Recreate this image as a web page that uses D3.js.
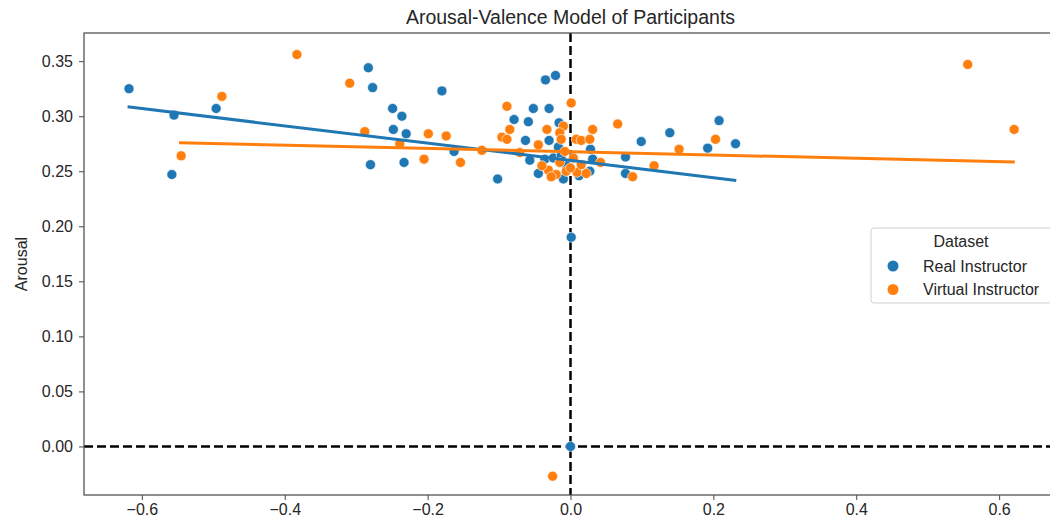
<html>
<head>
  <meta charset="utf-8">
  <style>
    body { margin: 0; background: white; font-family: "Liberation Sans", Arial, Helvetica, sans-serif; }
    .tick text { fill: #262626; font-size: 16px; }
    .tick line { stroke: #444; }
  </style>
</head>
<body>
  <svg id="chart"></svg>
  <script src="https://cdn.jsdelivr.net/npm/d3@7"></script>
  <script>
    // values: [valence, arousal]
    var realInstructor = [
      [-0.618, 0.325], [-0.555, 0.301], [-0.558, 0.247], [-0.496, 0.307],
      [-0.283, 0.344], [-0.277, 0.326], [-0.280, 0.256], [-0.249, 0.307],
      [-0.236, 0.300], [-0.248, 0.288], [-0.230, 0.284], [-0.233, 0.258],
      [-0.180, 0.323], [-0.163, 0.268], [-0.102, 0.243], [-0.079, 0.297],
      [-0.052, 0.307], [-0.059, 0.295], [-0.063, 0.278], [-0.035, 0.333],
      [-0.021, 0.337], [-0.030, 0.307], [-0.016, 0.294], [-0.030, 0.278],
      [-0.057, 0.260], [-0.045, 0.248], [-0.036, 0.261], [-0.024, 0.262],
      [-0.013, 0.264], [-0.017, 0.272], [-0.010, 0.243], [-0.005, 0.255],
      [0.012, 0.246], [0.027, 0.250], [0.028, 0.270], [0.031, 0.261],
      [0.077, 0.263], [0.077, 0.248], [0.099, 0.277], [0.139, 0.285],
      [0.192, 0.271], [0.208, 0.296], [0.231, 0.275], [0.001, 0.190],
      [0.000, 0.000]
    ];
    var virtualInstructor = [
      [-0.488, 0.318], [-0.545, 0.264], [-0.383, 0.356], [-0.309, 0.330],
      [-0.288, 0.286], [-0.239, 0.275], [-0.199, 0.284], [-0.205, 0.261],
      [-0.174, 0.282], [-0.154, 0.258], [-0.124, 0.269], [-0.089, 0.309],
      [-0.085, 0.288], [-0.096, 0.281], [-0.089, 0.279], [0.001, 0.312],
      [-0.033, 0.288], [-0.010, 0.291], [-0.015, 0.285], [-0.013, 0.279],
      [-0.071, 0.267], [-0.045, 0.274], [0.008, 0.279], [0.015, 0.278],
      [0.027, 0.279], [0.031, 0.288], [0.066, 0.293], [0.042, 0.258],
      [0.087, 0.245], [0.117, 0.255], [0.152, 0.270], [0.203, 0.279],
      [0.556, 0.347], [0.621, 0.288], [-0.031, 0.251], [-0.020, 0.247],
      [-0.006, 0.250], [0.009, 0.249], [0.022, 0.248], [-0.040, 0.255],
      [-0.015, 0.258], [0.000, 0.253], [0.004, 0.262], [-0.027, 0.245],
      [0.015, 0.256], [-0.008, 0.268], [-0.025, -0.027]
    ];
    // fitted lines, endpoints
    var realFit = [[-0.620, 0.3085], [0.232, 0.2417]];
    var virtualFit = [[-0.548, 0.2759], [0.622, 0.2585]];

    var xTicks = [-0.6, -0.4, -0.2, 0.0, 0.2, 0.4, 0.6];
    var yTicks = [0.00, 0.05, 0.10, 0.15, 0.20, 0.25, 0.30, 0.35];
    var seriesNames = ["Real Instructor", "Virtual Instructor"];
    var seriesColors = ["#1f77b4", "#ff7f0e"];

    var width = 1050, height = 525;
    var margin = { top: 33, left: 84, bottom: 30, right: -7 };

    var svg = d3.select("#chart")
      .attr("width", width)
      .attr("height", height);

    var xScale = d3.scaleLinear()
      .domain([-0.681, 0.681])
      .range([margin.left, width - margin.right]);
    var yScale = d3.scaleLinear()
      .domain([-0.0441, 0.3756])
      .range([height - margin.bottom, margin.top]);

    // title
    svg.append("text")
      .attr("x", (xScale.range()[0] + xScale.range()[1]) / 2)
      .attr("y", 24)
      .attr("text-anchor", "middle")
      .attr("font-size", "19.5px")
      .attr("fill", "#262626")
      .text("Arousal-Valence Model of Participants");

    // axes
    var xAxis = d3.axisBottom(xScale).tickValues(xTicks).tickFormat(d3.format(".1f")).tickSize(5).tickPadding(4);
    svg.append("g")
      .attr("transform", "translate(0," + yScale.range()[0] + ")")
      .call(xAxis)
      .call(g => g.select(".domain").remove());

    var yAxis = d3.axisLeft(yScale).tickValues(yTicks).tickFormat(d3.format(".2f")).tickSize(5).tickPadding(6);
    svg.append("g")
      .attr("transform", "translate(" + xScale.range()[0] + ",0)")
      .call(yAxis)
      .call(g => g.select(".domain").remove());

    svg.append("text")
      .attr("transform", "translate(27," + (yScale.range()[0] + yScale.range()[1]) / 2 + ") rotate(-90)")
      .attr("text-anchor", "middle")
      .attr("font-size", "16px")
      .attr("fill", "#262626")
      .text("Arousal");

    // zero lines
    svg.append("line")
      .attr("x1", xScale(0)).attr("x2", xScale(0))
      .attr("y1", yScale.range()[1]).attr("y2", yScale.range()[0])
      .attr("stroke", "black").attr("stroke-width", 2.5)
      .attr("stroke-dasharray", "9,4");
    svg.append("line")
      .attr("x1", xScale.range()[0]).attr("x2", xScale.range()[1])
      .attr("y1", yScale(0)).attr("y2", yScale(0))
      .attr("stroke", "black").attr("stroke-width", 2.5)
      .attr("stroke-dasharray", "9,4");

    // points
    [realInstructor, virtualInstructor].forEach(function(data, i) {
      svg.append("g")
        .selectAll("circle")
        .data(data)
        .join("circle")
        .attr("cx", d => xScale(d[0]))
        .attr("cy", d => yScale(d[1]))
        .attr("r", 5)
        .attr("fill", seriesColors[i])
        .attr("stroke", "white")
        .attr("stroke-width", 0.6);
    });

    // fit lines
    var line = d3.line().x(d => xScale(d[0])).y(d => yScale(d[1]));
    [realFit, virtualFit].forEach(function(fit, i) {
      svg.append("path")
        .datum(fit)
        .attr("d", line)
        .attr("fill", "none")
        .attr("stroke", seriesColors[i])
        .attr("stroke-width", 3);
    });

    // spines
    svg.append("rect")
      .attr("x", xScale.range()[0])
      .attr("y", yScale.range()[1])
      .attr("width", xScale.range()[1] - xScale.range()[0])
      .attr("height", yScale.range()[0] - yScale.range()[1])
      .attr("fill", "none")
      .attr("stroke", "#555")
      .attr("stroke-width", 1.3);

    // legend
    var legend = svg.append("g").attr("transform", "translate(871,228)");
    legend.append("rect")
      .attr("width", 181).attr("height", 75)
      .attr("rx", 3)
      .attr("fill", "white").attr("fill-opacity", 0.8)
      .attr("stroke", "#d0d0d0");
    legend.append("text")
      .attr("x", 90).attr("y", 19)
      .attr("text-anchor", "middle")
      .attr("font-size", "16px")
      .attr("fill", "#262626")
      .text("Dataset");
    seriesNames.forEach(function(name, i) {
      var row = legend.append("g").attr("transform", "translate(0," + (38 + i * 23.5) + ")");
      row.append("circle").attr("cx", 22).attr("cy", 0).attr("r", 5.5).attr("fill", seriesColors[i]);
      row.append("text")
        .attr("x", 52).attr("y", 5.5)
        .attr("font-size", "16px")
        .attr("fill", "#262626")
        .text(name);
    });
  </script>
</body>
</html>
